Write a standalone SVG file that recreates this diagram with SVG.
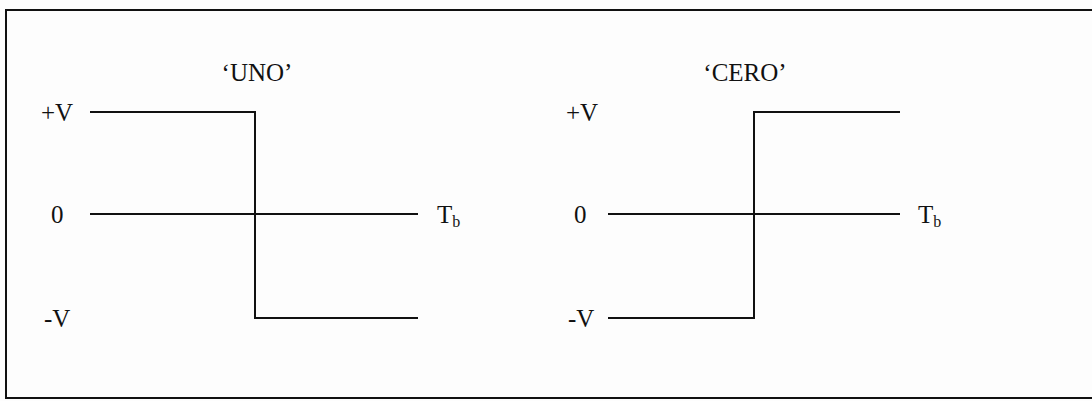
<svg xmlns="http://www.w3.org/2000/svg" width="1092" height="401" viewBox="0 0 1092 401">
<style>
text{font-family:"Liberation Serif","Times New Roman",serif;font-size:25px;fill:#111}
.sub{font-size:16px}
.w{fill:none;stroke:#111;stroke-width:2}
</style>
<rect x="0" y="0" width="1092" height="401" fill="#fdfdfd"/>
<g id="frame"><path class="w" d="M6,399 V10 H1092 M6,398 H1092"/></g>
<g id="uno">
<text x="257" y="81" text-anchor="middle">‘UNO’</text>
<text x="41" y="121">+V</text>
<text x="51" y="223">0</text>
<text x="44" y="327">-V</text>
<text x="437" y="223">T<tspan class="sub" dy="4">b</tspan></text>
</g>
<g id="cero">
<text x="745" y="81" text-anchor="middle">‘CERO’</text>
<text x="566" y="121">+V</text>
<text x="574" y="223">0</text>
<text x="568" y="327">-V</text>
<text x="918" y="223">T<tspan class="sub" dy="4">b</tspan></text>
</g>
<g id="connectors">
<path class="w" d="M90,112 H255 V318 H418"/>
<path class="w" d="M90,214 H418"/>
<path class="w" d="M608,318 H754 V112 H900"/>
<path class="w" d="M608,214 H900"/>
</g>
</svg>
